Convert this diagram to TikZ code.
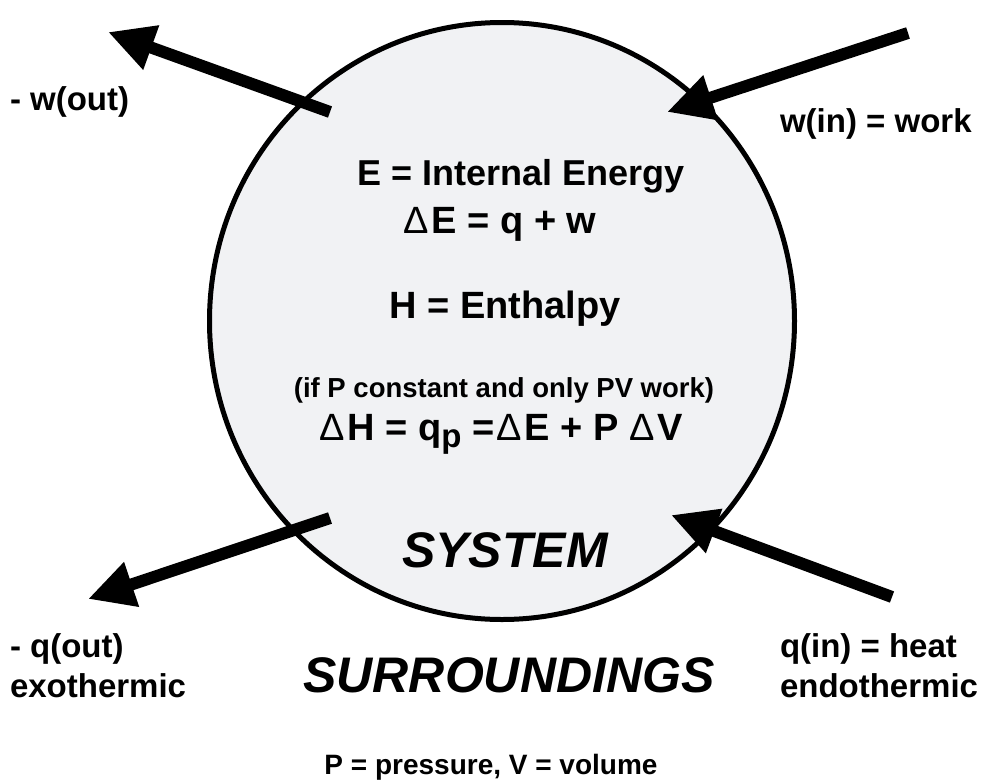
\documentclass[tikz,border=0pt]{standalone}
\usepackage{fontspec}
\usepackage{graphicx}
\setmainfont{Liberation Sans}
\usetikzlibrary{arrows.meta,shapes.geometric}
\definecolor{sysfill}{HTML}{F1F2F4}
\newcommand{\fsz}[1]{\fontsize{#1}{#1}\selectfont}
\newcommand{\dlt}{{\mdseries Δ}\kern3pt}
\begin{document}
\begin{tikzpicture}[x=1pt,y=-1pt,
  lbl/.style={inner sep=0pt, outer sep=0pt},
  bigarrow/.style={line width=12pt, -{Triangle[length=46pt,width=44pt]}},
]
\useasboundingbox (0,0) rectangle (983,782);
\node[ellipse, draw, line width=5pt, fill=sysfill, minimum width=585pt, minimum height=597pt, inner sep=0pt] (sys) at (502,321) {};
% arrows
\coordinate (woutT) at (330,112); \coordinate (woutH) at (108,32);
\coordinate (winT) at (908,33);   \coordinate (winH) at (667,112);
\coordinate (qoutT) at (330,518); \coordinate (qoutH) at (88,599);
\coordinate (qinT) at (892,597);  \coordinate (qinH) at (671,515);
\draw[bigarrow] (woutT) -- (woutH);
\draw[bigarrow] (winT) -- (winH);
\draw[bigarrow] (qoutT) -- (qoutH);
\draw[bigarrow] (qinT) -- (qinH);
% side labels
\node[lbl, anchor=base west, font=\bfseries\fsz{33}] (wout) at (10,110) {- w(out)};
\node[lbl, anchor=base west, font=\bfseries\fsz{33}] (win) at (780,132) {w(in) = work};
\node[lbl, anchor=base west, font=\bfseries\fsz{33}] (qout) at (10,657) {- q(out)};
\node[lbl, anchor=base west, font=\bfseries\fsz{33}] (exo) at (10,697) {exothermic};
\node[lbl, anchor=base west, font=\bfseries\fsz{33}] (qin) at (780,657) {q(in) = heat};
\node[lbl, anchor=base west, font=\bfseries\fsz{33}] (endo) at (780,697) {endothermic};
% center texts
\node[lbl, anchor=base, font=\bfseries\fsz{36}] (ie) at (521,185) {E = Internal Energy};
\node[lbl, anchor=base, font=\bfseries\fsz{38}] (de) at (500,233) {\dlt E = q + w};
\node[lbl, anchor=base, font=\bfseries\fsz{38}] (en) at (505,318) {H = Enthalpy};
\node[lbl, anchor=base, font=\bfseries\fsz{27.5}] (cond) at (504,397) {(if P constant and only PV work)};
\node[lbl, anchor=base, font=\bfseries\fsz{38}] (dh) at (501,440) {\dlt H = q\raisebox{-7pt}{\fsz{33}p} =\kern2pt\dlt E + P \dlt V};
\node[lbl, anchor=base, font=\bfseries\itshape\fsz{50}] (sysl) at (505,567) {SYSTEM};
\node[lbl, anchor=base, font=\bfseries\itshape\fsz{50}] (sur) at (509,692) {SURROUNDINGS};
\node[lbl, anchor=base, font=\bfseries\fsz{28}] (pv) at (491,774) {P = pressure, V = volume};
\end{tikzpicture}
\end{document}
